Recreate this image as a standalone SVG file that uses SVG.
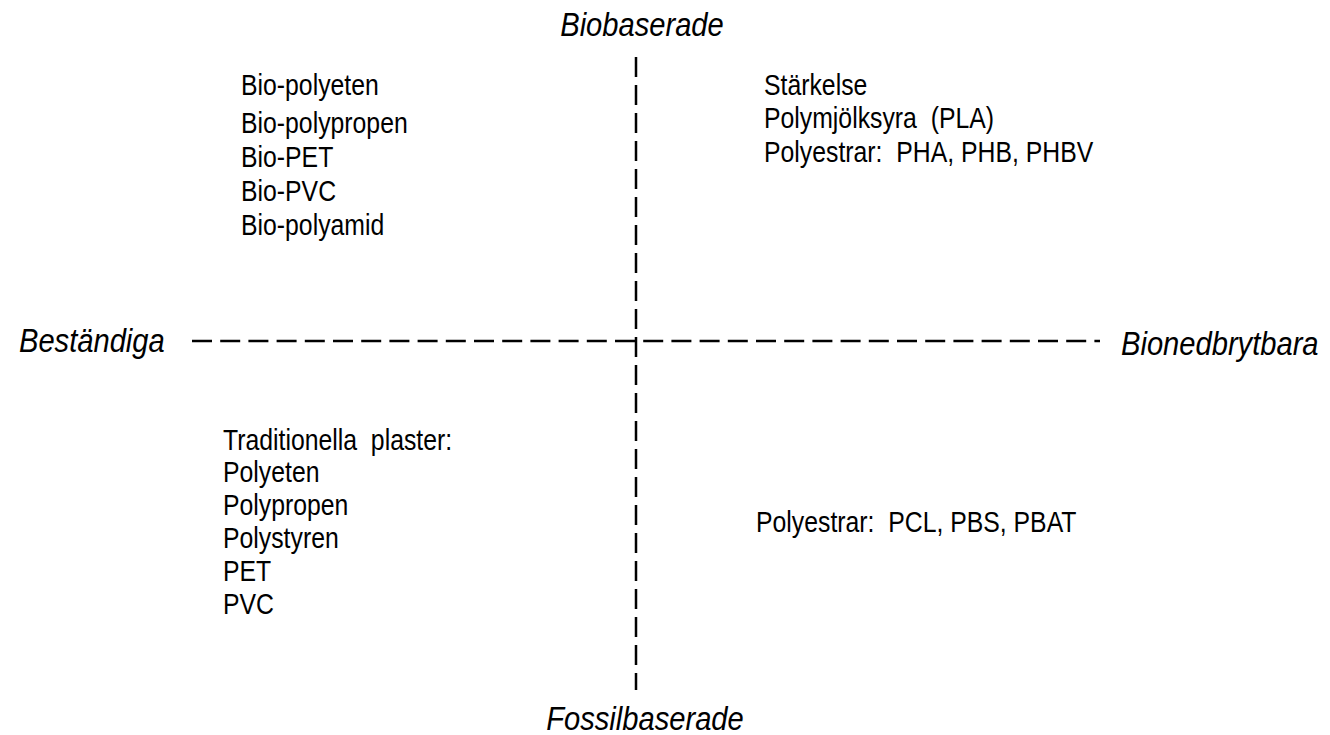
<svg xmlns="http://www.w3.org/2000/svg" width="1330" height="735" viewBox="0 0 1330 735">
<style>
.t{font-family:"Liberation Sans",Arial,sans-serif;font-size:29px;fill:#000}
.ax{font-family:"Liberation Sans",Arial,sans-serif;font-size:33.5px;font-style:italic;fill:#000}
.d{stroke:#000;stroke-width:2.5;fill:none}
</style>
<rect width="1330" height="735" fill="#fff"/>
<g id="connectors">
<line class="d" x1="192" y1="341" x2="1100" y2="341" stroke-dasharray="20,8.2"/>
<line class="d" x1="636" y1="57" x2="636" y2="690" stroke-dasharray="20,8"/>
</g>
<g id="axis-top" transform="translate(642,36) scale(0.87,1)"><text class="ax" x="0" y="0" text-anchor="middle">Biobaserade</text></g>
<g id="axis-bottom" transform="translate(645,730) scale(0.87,1)"><text class="ax" x="0" y="0" text-anchor="middle">Fossilbaserade</text></g>
<g id="axis-left" transform="translate(19,352) scale(0.87,1)"><text class="ax" x="0" y="0">Beständiga</text></g>
<g id="axis-right" transform="translate(1121,355) scale(0.87,1)"><text class="ax" x="0" y="0">Bionedbrytbara</text></g>
<g id="q-top-left" transform="translate(241,0) scale(0.855,1)">
<text class="t" x="0" y="95">Bio-polyeten</text>
<text class="t" x="0" y="133">Bio-polypropen</text>
<text class="t" x="0" y="167">Bio-PET</text>
<text class="t" x="0" y="201">Bio-PVC</text>
<text class="t" x="0" y="235">Bio-polyamid</text>
</g>
<g id="q-top-right" transform="translate(764,0) scale(0.855,1)">
<text class="t" x="0" y="95">Stärkelse</text>
<text class="t" x="0" y="128" xml:space="preserve">Polymjölksyra  (PLA)</text>
<text class="t" x="0" y="162" xml:space="preserve">Polyestrar:  PHA, PHB, PHBV</text>
</g>
<g id="q-bottom-left" transform="translate(223,0) scale(0.855,1)">
<text class="t" x="0" y="450" xml:space="preserve">Traditionella  plaster:</text>
<text class="t" x="0" y="482">Polyeten</text>
<text class="t" x="0" y="515">Polypropen</text>
<text class="t" x="0" y="548">Polystyren</text>
<text class="t" x="0" y="581">PET</text>
<text class="t" x="0" y="614">PVC</text>
</g>
<g id="q-bottom-right" transform="translate(756,0) scale(0.855,1)">
<text class="t" x="0" y="532" xml:space="preserve">Polyestrar:  PCL, PBS, PBAT</text>
</g>
</svg>
